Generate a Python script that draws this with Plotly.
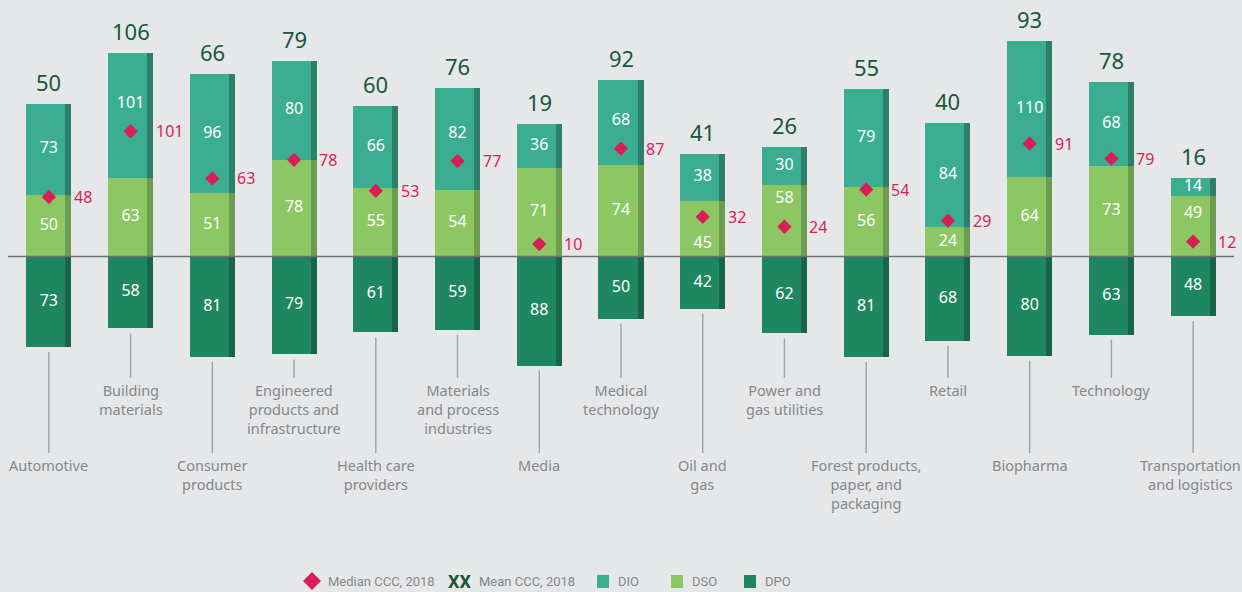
import plotly.graph_objects as go

categories = ["Automotive", "Building<br>materials", "Consumer<br>products",
              "Engineered<br>products and<br>infrastructure", "Health care<br>providers",
              "Materials<br>and process<br>industries", "Media", "Medical<br>technology",
              "Oil and<br>gas", "Power and<br>gas utilities",
              "Forest products,<br>paper, and<br>packaging", "Retail", "Biopharma",
              "Technology", "Transportation<br>and logistics"]
mean_ccc = [50, 106, 66, 79, 60, 76, 19, 92, 41, 26, 55, 40, 93, 78, 16]
median_ccc = [48, 101, 63, 78, 53, 77, 10, 87, 32, 24, 54, 29, 91, 79, 12]
dio = [73, 101, 96, 80, 66, 82, 36, 68, 38, 30, 79, 84, 110, 68, 14]
dso = [50, 63, 51, 78, 55, 54, 71, 74, 45, 58, 56, 24, 64, 73, 49]
dpo = [73, 58, 81, 79, 61, 59, 88, 50, 42, 62, 81, 68, 80, 63, 48]

C_DIO, C_DIO_S = "#3BAE92", "#2E7F6A"
C_DSO, C_DSO_S = "#8CC763", "#6C9C50"
C_DPO, C_DPO_S = "#1E8661", "#176649"
PINK = "#D91E57"
MEANC = "#17573A"
GREY = "#858789"
BG = "#E6E7E9"
FONT = "Noto Sans"
LFONT = "Roboto"

W, H = 1242, 592
ML, MR = 8, 8
K = 1.24            # px per day
ZERO_PX = 256.5
y_top = ZERO_PX / K
y_bot = -(H - ZERO_PX) / K

n = len(categories)
x = list(range(n))
bw = 0.552           # full bar width
sw = 0.074           # dark side strip width
s_off = bw / 2 - sw

fig = go.Figure()

def seg(y, base, col, scol):
    fig.add_trace(go.Bar(
        x=x, y=y, base=base, width=bw, marker=dict(color=col, line=dict(width=0)),
        showlegend=False, hoverinfo="skip"))
    fig.add_trace(go.Bar(
        x=x, y=y, base=base, width=sw, offset=s_off,
        marker=dict(color=scol, line=dict(width=0)),
        showlegend=False, hoverinfo="skip"))

seg(dso, [0] * n, C_DSO, C_DSO_S)
seg(dio, dso, C_DIO, C_DIO_S)
seg([-v for v in dpo], [0] * n, C_DPO, C_DPO_S)

# segment value labels: centred, but nudged away from the median diamond when close
D = 22
def label_pos(lo, hi, med):
    mid = (lo + hi) / 2
    if abs(mid - med) < D and lo <= med <= hi:
        return med - D if med > mid else med + D
    return mid

dso_y = [label_pos(0, dso[i], median_ccc[i]) for i in x]
dio_y = [label_pos(dso[i], dso[i] + dio[i], median_ccc[i]) for i in x]
dpo_y = [-v / 2 for v in dpo]
for ys, vals in [(dso_y, dso), (dio_y, dio), (dpo_y, dpo)]:
    fig.add_trace(go.Scatter(
        x=x, y=ys, mode="text", text=[str(v) for v in vals],
        textposition="middle center",
        textfont=dict(color="white", size=16, family=FONT),
        showlegend=False, hoverinfo="skip"))

fig.add_trace(go.Scatter(
    x=x, y=median_ccc, mode="markers",
    marker=dict(symbol="diamond", size=11, color=PINK, line=dict(width=0)),
    showlegend=False, hoverinfo="skip"))

annotations = []
shapes = []

for i in range(n):
    top = dso[i] + dio[i]
    annotations.append(dict(x=i, y=top, xref="x", yref="y", text=str(mean_ccc[i]),
                            showarrow=False, yanchor="bottom", yshift=5,
                            font=dict(size=22, color=MEANC, family=FONT)))
    annotations.append(dict(x=i, y=median_ccc[i], xref="x", yref="y",
                            text=str(median_ccc[i]), showarrow=False,
                            xanchor="left", xshift=23,
                            font=dict(size=16, color=PINK, family=FONT)))
    low = (i % 2 == 0)
    end_px = 453 if low else 378
    end_val = -(end_px - ZERO_PX) / K
    shapes.append(dict(type="line", xref="x", yref="y", x0=i, x1=i,
                       y0=-dpo[i] - 5 / K, y1=end_val,
                       line=dict(color="#A3A5A7", width=1.5)))
    annotations.append(dict(x=i, y=end_val, xref="x", yref="y", text=categories[i],
                            showarrow=False, yanchor="top", yshift=0,
                            xshift=-3 if i == n - 1 else 0,
                            font=dict(size=14.5, color=GREY, family=FONT)))

shapes.append(dict(type="line", xref="paper", yref="y", x0=0, x1=1, y0=0, y1=0,
                   line=dict(color="#6E7072", width=1.5), layer="above"))

# manual legend
def px2x(px):
    return (px - ML) / (W - ML - MR)

def py2y(py):
    return 1 - py / H

LY = 581
shapes.append(dict(type="path", xref="paper", yref="paper",
                   path="M {a},{m} L {c},{t} L {b},{m} L {c},{btm} Z".format(
                       a=px2x(303), b=px2x(321), c=px2x(312),
                       m=py2y(LY), t=py2y(LY - 9), btm=py2y(LY + 9)),
                   fillcolor=PINK, line=dict(width=0)))

def legtext(px, txt, size=13, color=GREY, anchor="left", family=LFONT, dy=0):
    annotations.append(dict(x=px2x(px), y=py2y(LY + dy), xref="paper", yref="paper",
                            text=txt, xanchor=anchor, yanchor="middle", showarrow=False,
                            borderpad=0,
                            font=dict(size=size, color=color, family=family)))

legtext(327, "Median CCC, 2018")
legtext(459, "<b>XX</b>", size=18, color=MEANC, anchor="center", family=LFONT)
legtext(478, "Mean CCC, 2018")
for sx, col, lab in [(597, C_DIO, "DIO"), (671, C_DSO, "DSO"), (744, C_DPO, "DPO")]:
    shapes.append(dict(type="rect", xref="paper", yref="paper",
                       x0=px2x(sx), x1=px2x(sx + 12), y0=py2y(LY + 7), y1=py2y(LY - 6),
                       fillcolor=col, line=dict(width=0)))
    legtext(sx + 20, lab)

fig.update_layout(
    width=W, height=H, barmode="overlay", bargap=0,
    paper_bgcolor=BG, plot_bgcolor=BG,
    margin=dict(l=ML, r=MR, t=0, b=0),
    xaxis=dict(range=[-0.5, n - 0.5], visible=False, fixedrange=True),
    yaxis=dict(range=[y_bot, y_top], visible=False, fixedrange=True),
    annotations=annotations, shapes=shapes, showlegend=False,
    font=dict(family=FONT),
)

fig.write_html("out.html", config={"displayModeBar": False},
               post_script="document.body.style.margin='0';document.body.style.background='" + BG + "';")
